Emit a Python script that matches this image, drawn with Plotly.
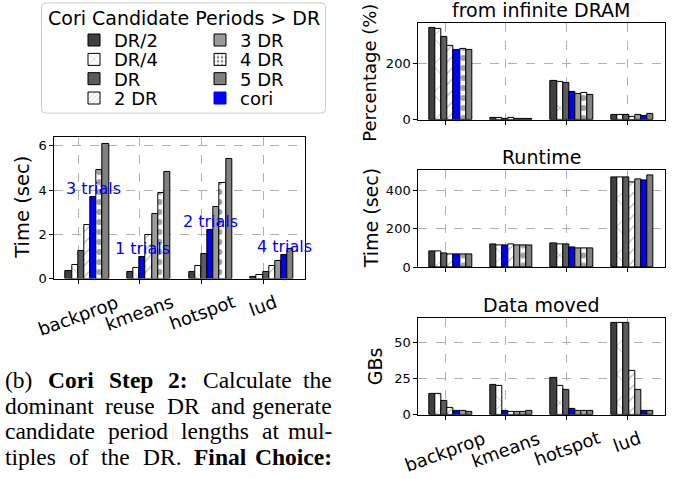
import plotly.graph_objects as go

W, H = 675, 479


def px(x):
    return x / W


def py(y):
    return 1 - y / H


# ---------------- data ----------------
benchmarks = ["backprop", "kmeans", "hotspot", "lud"]
candidates = ["DR/2", "DR/4", "DR", "2 DR", "3 DR", "4 DR", "5 DR"]
chosen_idx = [4, 2, 3, 5]          # candidate picked by cori, per benchmark
trials = [3, 1, 2, 4]

search_time = {                     # Time (sec), step 2 search
    "DR/2": [0.33, 0.28, 0.30, 0.09],
    "DR/4": [0.62, 0.50, 0.56, 0.16],
    "DR":   [1.24, 0.99, 1.11, 0.30],
    "2 DR": [2.44, 1.96, 2.18, 0.56],
    "3 DR": [3.67, 2.92, 3.24, 0.81],
    "4 DR": [4.89, 3.88, 4.33, 1.08],
    "5 DR": [6.10, 4.84, 5.41, 1.35],
}
slowdown = {                        # Percentage (%) from infinite DRAM
    "DR/2": [328, 7, 138, 18.6],
    "DR/4": [324, 5, 134, 18.6],
    "DR":   [296, 2, 130, 18.6],
    "2 DR": [262, 6, 100, 10.5],
    "3 DR": [248, 1.5, 93, 16],
    "4 DR": [250, 1.5, 94, 15],
    "5 DR": [248, 1.5, 87, 22],
}
runtime = {                         # Time (sec)
    "DR/2": [81, 118, 124, 469],
    "DR/4": [80, 115, 120, 469],
    "DR":   [74, 115, 120, 469],
    "2 DR": [66, 118, 103, 441],
    "3 DR": [66, 112, 100, 460],
    "4 DR": [66, 112, 100, 453],
    "5 DR": [67, 112, 96, 482],
}
data_moved = {                      # GBs
    "DR/2": [14.2, 20.5, 25.0, 63.5],
    "DR/4": [14.0, 19.8, 19.8, 63.5],
    "DR":   [9.7, 2.7, 16.9, 63.5],
    "2 DR": [4.7, 2.2, 4.0, 30.0],
    "3 DR": [2.5, 2.2, 2.7, 17.3],
    "4 DR": [2.3, 2.0, 2.5, 2.7],
    "5 DR": [2.2, 2.7, 2.9, 2.9],
}

# ---------------- styles ----------------
FONT = "DejaVu Sans"
CORI = "#0000ff"
fill = {"DR/2": "#404040", "DR/4": "#ffffff", "DR": "#5c5c5c", "2 DR": "#ffffff",
        "3 DR": "#9b9b9b", "4 DR": "#ffffff", "5 DR": "#808080"}
pat = {"DR/4": ("x", 20, 0.07), "2 DR": ("/", 8, 0.12), "4 DR": (".", 10, 0.3)}
BAR_W = 0.1

fig = go.Figure()


def add_bars(values, xa, ya, c0):
    for i, c in enumerate(candidates):
        shp, size, sol = pat.get(c, ("", 8, 0.2))
        colors = [CORI if chosen_idx[b] == i else fill[c] for b in range(len(benchmarks))]
        shapes = ["" if chosen_idx[b] == i else shp for b in range(len(benchmarks))]
        fig.add_trace(go.Bar(
            x=benchmarks, y=values[c], width=BAR_W, offset=c0 - BAR_W / 2 + i * BAR_W,
            marker=dict(color=colors, line=dict(color="black", width=1),
                        pattern=dict(shape=shapes, size=size, solidity=sol,
                                     fgcolor="black", fillmode="overlay")),
            xaxis=xa, yaxis=ya, showlegend=False, hoverinfo="skip"))


C0_LEFT, C0_RIGHT = -0.155, -0.21
add_bars(search_time, "x", "y", C0_LEFT)
add_bars(slowdown, "x2", "y2", C0_RIGHT)
add_bars(runtime, "x3", "y3", C0_RIGHT)
add_bars(data_moved, "x4", "y4", C0_RIGHT)

# legend entries: one small legend per entry, laid out in two columns
legend_order = ["DR/2", "DR/4", "DR", "2 DR", "3 DR", "4 DR", "5 DR", "cori"]
col_x = [74, 200]
row_y = [41, 60.7, 80.3, 100]
legend_layout = {}
for k, n in enumerate(legend_order):
    lg = "legend" if k == 0 else f"legend{k + 1}"
    if n == "cori":
        mk = dict(color=CORI, line=dict(color=CORI, width=1))
    else:
        shp, size, sol = pat.get(n, ("", 8, 0.2))
        mk = dict(color=fill[n], line=dict(color="black", width=1),
                  pattern=dict(shape=shp, size=max(size // 2, 4), solidity=sol,
                               fgcolor="black", fillmode="overlay"))
    fig.add_trace(go.Bar(x=[None], y=[None], name=n, marker=mk, legend=lg,
                         xaxis="x", yaxis="y", hoverinfo="skip"))
    legend_layout[lg] = dict(x=px(col_x[k // 4]), y=py(row_y[k % 4]),
                             xanchor="left", yanchor="middle",
                             bgcolor="rgba(0,0,0,0)", borderwidth=0,
                             font=dict(family=FONT, size=18, color="black"))

# ---------------- axes ----------------
grid = dict(showgrid=True, gridcolor="#b0b0b0", griddash="dash", gridwidth=1,
            showline=True, mirror=True, linecolor="black", linewidth=1,
            ticks="outside", ticklen=4, tickcolor="black", zeroline=False,
            tickfont=dict(family=FONT, size=13, color="black"))

left_dom_x = [px(54.3), px(305)]
right_dom_x = [px(418.3), px(665)]
ydoms = {
    "y": [py(283.3), py(139.3)],
    "y2": [py(121.7), py(23.3)],
    "y3": [py(271.7), py(173.3)],
    "y4": [py(421.7), py(323.3)],
}
fig.update_layout(
    xaxis=dict(domain=left_dom_x, anchor="y", type="category", range=[-0.39, 3.68],
               showticklabels=False, **grid),
    yaxis=dict(domain=ydoms["y"], anchor="x", range=[0, 6.405], dtick=2, **grid),
    xaxis2=dict(domain=right_dom_x, anchor="y2", type="category", range=[-0.445, 3.625],
                showticklabels=False, **grid),
    yaxis2=dict(domain=ydoms["y2"], anchor="x2", range=[0, 344], tickvals=[0, 200], **grid),
    xaxis3=dict(domain=right_dom_x, anchor="y3", type="category", range=[-0.445, 3.625],
                showticklabels=False, **grid),
    yaxis3=dict(domain=ydoms["y3"], anchor="x3", range=[0, 506], tickvals=[0, 200, 400], **grid),
    xaxis4=dict(domain=right_dom_x, anchor="y4", type="category", range=[-0.445, 3.625],
                showticklabels=False, **grid),
    yaxis4=dict(domain=ydoms["y4"], anchor="x4", range=[0, 66.7], tickvals=[0, 25, 50], **grid),
)

ann = []
# rotated category labels
for xa, ybot in (("x", 283.3), ("x4", 421.7)):
    for b in benchmarks:
        ann.append(dict(x=b, xref=xa, y=py(ybot + 10), yref="paper", text=b,
                        textangle=-20, xanchor="center", yanchor="top", showarrow=False,
                        font=dict(family=FONT, size=18, color="black")))
# trial annotations on the cori bars
for b, (idx, t) in enumerate(zip(chosen_idx, trials)):
    yv = search_time[candidates[idx]][b]
    ann.append(dict(x=b + C0_LEFT + idx * BAR_W, xref="x", y=yv, yref="y",
                    text=f"{t} trials", showarrow=False, xanchor="center",
                    yanchor="middle", yshift=8.5,
                    font=dict(family=FONT, size=16, color=CORI)))
# axis titles
ytitles = [("Time (sec)", 23, 211.3, 19.5), ("Percentage (%)", 370, 74, 18),
           ("Time (sec)", 370.5, 222.5, 19), ("GBs", 375, 372.5, 19)]
for txt, xx, yy, fs in ytitles:
    ann.append(dict(x=px(xx), y=py(yy), xref="paper", yref="paper", text=txt,
                    textangle=-90, showarrow=False, xanchor="center", yanchor="middle",
                    font=dict(family=FONT, size=fs, color="black")))
# subplot titles
for txt, yy in (("from infinite DRAM", 10.5), ("Runtime", 160), ("Data moved", 310)):
    ann.append(dict(x=px(541.6), y=py(yy), xref="paper", yref="paper", text=txt,
                    showarrow=False, xanchor="center", yanchor="middle",
                    font=dict(family=FONT, size=19, color="black")))
# legend title
ann.append(dict(x=px(183.5), y=py(18.5), xref="paper", yref="paper",
                text="Cori Candidate Periods > DR", showarrow=False,
                xanchor="center", yanchor="middle",
                font=dict(family=FONT, size=19, color="black")))

# caption, justified word by word (Times metrics, per 1000 em)
REG = {'a': 444, 'b': 500, 'c': 444, 'd': 500, 'e': 444, 'f': 333, 'g': 500, 'h': 500,
       'i': 278, 'l': 278, 'm': 778, 'n': 500, 'o': 500, 'p': 500, 'r': 333, 's': 389,
       't': 278, 'u': 500, 'C': 667, 'D': 722, 'R': 667, '(': 333, ')': 333, ':': 278,
       '.': 250, '-': 333, '2': 500}
BOLD = {'C': 722, 'o': 500, 'r': 444, 'i': 278, 'S': 556, 't': 333, 'e': 444, 'p': 556,
        '2': 500, ':': 333, 'F': 611, 'n': 556, 'a': 500, 'l': 278, 'h': 556, 'c': 444}
CAP_FS = 23.5
caption = [
    [("(b)", 0), ("Cori", 1), ("Step", 1), ("2:", 1), ("Calculate", 0), ("the", 0)],
    [("dominant", 0), ("reuse", 0), ("DR", 0), ("and", 0), ("generate", 0)],
    [("candidate", 0), ("period", 0), ("lengths", 0), ("at", 0), ("mul-", 0)],
    [("tiples", 0), ("of", 0), ("the", 0), ("DR.", 0), ("Final", 1), ("Choice:", 1)],
]
line_mid = [386.5, 412.5, 438.5, 465]
X_LEFT, X_RIGHT = 3, 334
for li, words in enumerate(caption):
    widths = [sum((BOLD if bd else REG).get(ch, 500) for ch in w) / 1000 * CAP_FS
              for w, bd in words]
    gap = (X_RIGHT - X_LEFT - sum(widths)) / (len(words) - 1)
    xcur = X_LEFT
    for wi, ((w, bd), wd) in enumerate(zip(words, widths)):
        last = wi == len(words) - 1
        ann.append(dict(x=px(X_RIGHT if last else xcur), y=py(line_mid[li]),
                        xref="paper", yref="paper",
                        text=f"<b>{w}</b>" if bd else w, showarrow=False,
                        xanchor="right" if last else "left", yanchor="middle",
                        font=dict(family="Liberation Serif", size=CAP_FS, color="black")))
        xcur += wd + gap

# rounded legend frame
L, T, R, B, r = 41.5, 3, 325.5, 115, 4
path = (f"M {px(L + r)},{py(T)} L {px(R - r)},{py(T)} Q {px(R)},{py(T)} {px(R)},{py(T + r)} "
        f"L {px(R)},{py(B - r)} Q {px(R)},{py(B)} {px(R - r)},{py(B)} "
        f"L {px(L + r)},{py(B)} Q {px(L)},{py(B)} {px(L)},{py(B - r)} "
        f"L {px(L)},{py(T + r)} Q {px(L)},{py(T)} {px(L + r)},{py(T)} Z")

fig.update_layout(
    width=W, height=H, margin=dict(l=0, r=0, t=0, b=0),
    paper_bgcolor="white", plot_bgcolor="white",
    barmode="overlay", bargap=0,
    annotations=ann,
    shapes=[dict(type="path", path=path, xref="paper", yref="paper",
                 line=dict(color="#cccccc", width=1), layer="above")],
    showlegend=True,
    **legend_layout,
)

fig.write_html("out.html")
